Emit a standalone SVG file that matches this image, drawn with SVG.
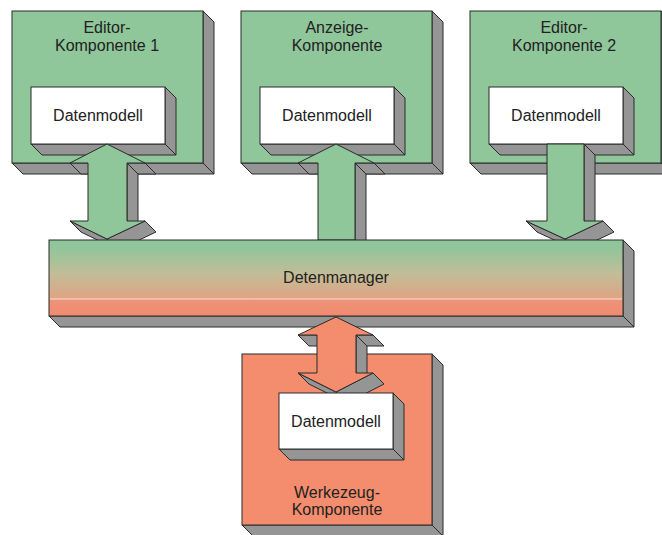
<svg xmlns="http://www.w3.org/2000/svg" width="662" height="535" viewBox="0 0 662 535">
<defs>
<linearGradient id="mgr" x1="0" y1="0" x2="0" y2="1">
<stop offset="0" stop-color="#8fc69b"/>
<stop offset="0.12" stop-color="#93c59b"/>
<stop offset="0.45" stop-color="#c2bd97"/>
<stop offset="0.77" stop-color="#e0a383"/>
<stop offset="0.78" stop-color="#ec9379"/>
<stop offset="1" stop-color="#f28b70"/>
</linearGradient>
</defs>
<style>
.g{fill:#8fc69a;stroke:#2b2b2b;stroke-width:1}
.o{fill:#f38d6e;stroke:#2b2b2b;stroke-width:1}
.w{fill:#ffffff;stroke:#2b2b2b;stroke-width:1}
.s{fill:#959595;stroke:#2b2b2b;stroke-width:1;stroke-linejoin:round}
.t{font-family:"Liberation Sans",Arial,sans-serif;font-size:16px;fill:#222;text-anchor:middle}
</style>
<rect width="662" height="535" fill="#ffffff"/>

<g id="editor1">
<polygon class="s" points="203,11 214,22 214,174 203,163"/>
<polygon class="s" points="12,163 203,163 214,174 23,174"/>
<rect class="g" x="12" y="11" width="191" height="152"/>
<text class="t" x="107" y="33">Editor-</text>
<text class="t" x="107" y="51">Komponente 1</text>
<g id="dm1">
<polygon class="s" points="165,87 176,98 176,155 165,144"/>
<polygon class="s" points="31,144 165,144 176,155 42,155"/>
<rect class="w" x="31" y="87" width="134" height="57"/>
<text class="t" x="98" y="121">Datenmodell</text>
</g>
</g>

<g id="anzeige">
<polygon class="s" points="432,11 443,22 443,174 432,163"/>
<polygon class="s" points="241,163 432,163 443,174 252,174"/>
<rect class="g" x="241" y="11" width="191" height="152"/>
<text class="t" x="337" y="33">Anzeige-</text>
<text class="t" x="337" y="51">Komponente</text>
<g id="dm2">
<polygon class="s" points="394,87 405,98 405,155 394,144"/>
<polygon class="s" points="260,144 394,144 405,155 271,155"/>
<rect class="w" x="260" y="87" width="134" height="57"/>
<text class="t" x="327" y="121">Datenmodell</text>
</g>
</g>

<g id="editor2">
<polygon class="s" points="661,11 672,22 672,174 661,163"/>
<polygon class="s" points="470,163 661,163 672,174 481,174"/>
<rect class="g" x="470" y="11" width="191" height="152"/>
<text class="t" x="564" y="33">Editor-</text>
<text class="t" x="564" y="51">Komponente 2</text>
<g id="dm3">
<polygon class="s" points="623,87 634,98 634,155 623,144"/>
<polygon class="s" points="489,144 623,144 634,155 500,155"/>
<rect class="w" x="489" y="87" width="134" height="57"/>
<text class="t" x="556" y="121">Datenmodell</text>
</g>
</g>

<g id="connectors">
<g id="arrow1">
<polygon class="s" points="145,163 127,163 138,174 156,174"/>
<polygon class="s" points="127,163 127,221 138,232 138,174"/>
<polygon class="s" points="145,221 107,239 118,250 156,232"/>
<polygon class="s" points="107,239 70,221 81,232 118,250"/>
<polygon class="s" points="88,163 70,163 81,174 99,174"/>
<polygon class="g" points="107,144 145,163 127,163 127,221 145,221 107,239 70,221 88,221 88,163 70,163"/>
</g>
<g id="arrow2">
<polygon class="s" points="374,163 355,163 366,174 385,174"/>
<polygon class="s" points="355,163 355,240 366,251 366,174"/>
<polygon class="s" points="318,163 298,163 309,174 329,174"/>
<polygon class="g" points="336,144 374,163 355,163 355,240 318,240 318,163 298,163"/>
</g>
<g id="arrow3">
<polygon class="s" points="584,144 584,221 595,232 595,155"/>
<polygon class="s" points="603,221 565,239 576,250 614,232"/>
<polygon class="s" points="565,239 526,221 537,232 576,250"/>
<polygon class="g" points="547,144 584,144 584,221 603,221 565,239 526,221 547,221"/>
</g>
</g>

<g id="manager">
<polygon class="s" points="623,240 634,251 634,327 623,316"/>
<polygon class="s" points="49,316 623,316 634,327 60,327"/>
<rect x="49" y="240" width="574" height="76" fill="url(#mgr)" stroke="#2b2b2b" stroke-width="1"/>
<line x1="50" y1="299" x2="622" y2="299" stroke="#fbe0cf" stroke-width="1"/>
<text class="t" x="336" y="283">Detenmanager</text>
</g>

<g id="werkzeug">
<polygon class="s" points="432,354 443,365 443,536 432,525"/>
<polygon class="s" points="242,525 432,525 443,536 253,536"/>
<rect class="o" x="242" y="354" width="190" height="171"/>
<text class="t" x="337" y="498">Werkezeug-</text>
<text class="t" x="337" y="515">Komponente</text>
</g>

<g id="arrow4">
<polygon class="s" points="373,335 356,335 367,346 384,346"/>
<polygon class="s" points="356,335 356,373 367,384 367,346"/>
<polygon class="s" points="373,373 336,392 347,403 384,384"/>
<polygon class="s" points="336,392 298,373 309,384 347,403"/>
<polygon class="s" points="317,335 298,335 309,346 328,346"/>
<polygon class="o" points="336,317 373,335 356,335 356,373 373,373 336,392 298,373 317,373 317,335 298,335"/>
</g>

<g id="dm4">
<polygon class="s" points="393,393 404,404 404,460 393,449"/>
<polygon class="s" points="279,449 393,449 404,460 290,460"/>
<rect class="w" x="279" y="393" width="114" height="56"/>
<text class="t" x="336" y="427">Datenmodell</text>
</g>
</svg>
